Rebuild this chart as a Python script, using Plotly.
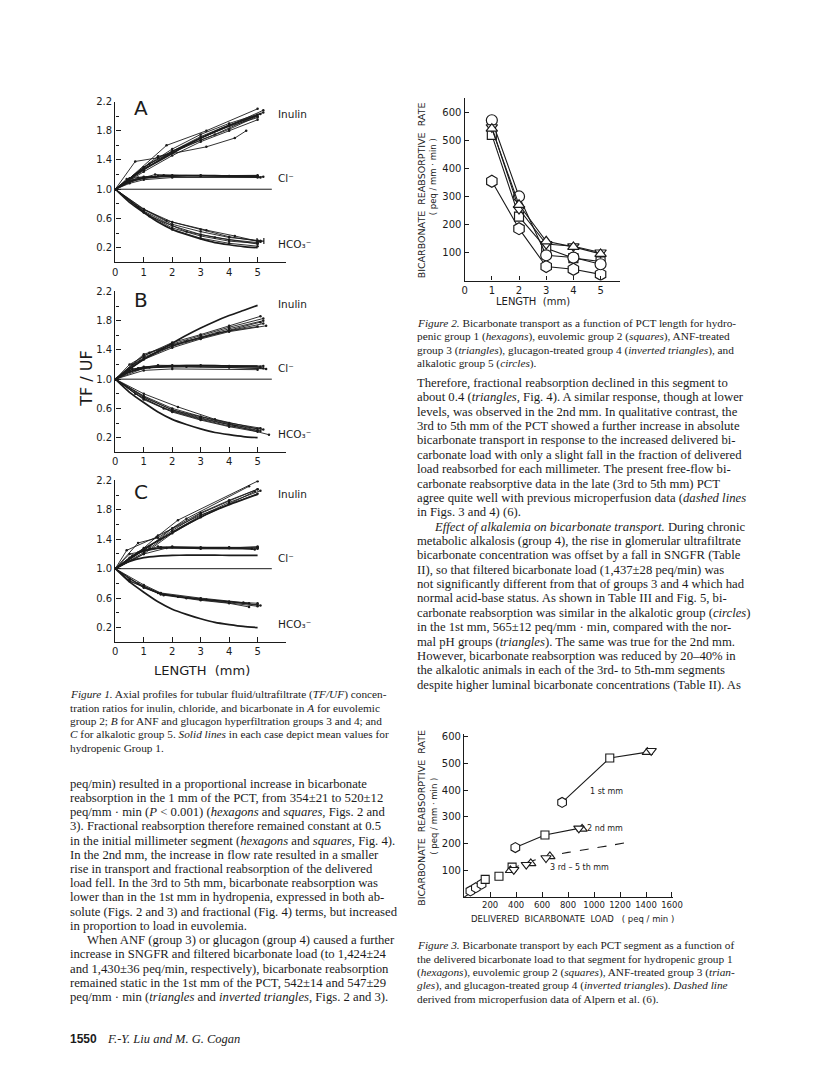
import plotly.graph_objects as go

W, H = 816, 1078
DX, DY = -6, -6          # small whole-page shift of the layout grid
INK = "#1b1b1b"
SERIF = "Liberation Serif"
SANS = "DejaVu Sans"

# ---------------- Figure 1: TF/UF axial profiles ----------------
# mean values for hydropenic group 1 (the solid lines drawn in every panel)
HYDRO_X = [0, 0.5, 1, 1.5, 2, 2.5, 3, 3.5, 4, 4.5, 5]
HYDRO_INULIN = [1.0, 1.14, 1.27, 1.38, 1.49, 1.60, 1.70, 1.79, 1.87, 1.94, 2.01]
HYDRO_CL = [1.0, 1.10, 1.15, 1.17, 1.18, 1.185, 1.185, 1.185, 1.18, 1.18, 1.18]
HYDRO_HCO3 = [1.0, 0.82, 0.68, 0.55, 0.45, 0.38, 0.32, 0.27, 0.24, 0.215, 0.20]
UNITY_X = [0, 5.5]
UNITY_Y = [1.0, 1.0]

# panel A: euvolemic group 2, one curve per tubule, (length, TF/UF)
A_INULIN = [
    [(0, 1.0), (0.7, 1.38), (1.5, 1.43), (5.2, 2.08)],
    [(0, 1.0), (0.5, 1.15), (1.8, 1.60), (3.2, 1.80), (5.0, 2.10)],
    [(0, 1.0), (1, 1.28), (2, 1.50), (3, 1.67), (4, 1.82), (5, 2.00)],
    [(0, 1.0), (1, 1.26), (2, 1.52), (3, 1.72), (4, 1.88), (5, 2.02)],
    [(0, 1.0), (1, 1.30), (2, 1.55), (3, 1.75), (4, 1.90), (5.2, 2.05)],
    [(0, 1.0), (1.5, 1.45), (3.2, 1.58), (4.2, 1.70), (4.6, 1.80)],
    [(0, 1.0), (1, 1.24), (2, 1.46), (3, 1.65), (4, 1.80), (5, 1.95)],
    [(0, 1.0), (1, 1.30), (2, 1.52), (3, 1.70), (4, 1.86), (5, 1.98)],
    [(0, 1.0), (1.2, 1.35), (2.4, 1.58), (3.5, 1.75), (5.1, 2.03)],
]
A_CL = [
    [(0, 1.0), (0.5, 1.12), (1, 1.16), (1.5, 1.18), (3, 1.185), (5, 1.18)],
    [(0, 1.0), (0.5, 1.10), (1, 1.15), (1.7, 1.19), (3, 1.19), (5.2, 1.17)],
    [(0, 1.0), (0.4, 1.14), (1, 1.17), (2, 1.18), (5, 1.19)],
    [(0, 1.0), (0.6, 1.12), (1.4, 1.20), (3, 1.18), (5.1, 1.16)],
    [(0, 1.0), (0.5, 1.08), (1, 1.13), (2, 1.16), (5, 1.16)],
    [(0, 1.0), (0.8, 1.16), (2, 1.19), (4, 1.18), (5, 1.18)],
]
A_HCO3 = [
    [(0, 1.0), (1, 0.72), (2, 0.52), (3, 0.42), (4, 0.34), (5, 0.30)],
    [(0, 1.0), (1, 0.70), (2, 0.50), (3, 0.38), (4, 0.31), (5, 0.27)],
    [(0, 1.0), (1, 0.69), (2, 0.47), (3, 0.36), (4, 0.29), (5, 0.26)],
    [(0, 1.0), (1, 0.68), (2, 0.45), (3, 0.33), (4, 0.26), (5, 0.22)],
    [(0, 1.0), (1, 0.73), (1.8, 0.57), (3.2, 0.44), (4.2, 0.36), (5.1, 0.28)],
    [(0, 1.0), (0.8, 0.76), (2, 0.55), (3, 0.45), (4, 0.35), (5, 0.29)],
    [(0, 1.0), (1.2, 0.63), (2.5, 0.42), (3.5, 0.34), (5, 0.25)],
]
A_HCO3_MEAN = [(5.1, 0.29)]
A_HCO3_ERR = [0.12]

# panel B: ANF and glucagon groups 3 and 4
B_INULIN = [
    [(0, 1.0), (0.5, 1.20), (1.2, 1.36), (2, 1.50), (3, 1.61), (4, 1.73), (5.1, 1.86)],
    [(0, 1.0), (1, 1.32), (2, 1.48), (3, 1.60), (4, 1.71), (5.2, 1.83)],
    [(0, 1.0), (1, 1.30), (2, 1.46), (3, 1.58), (4, 1.69), (5.2, 1.80)],
    [(0, 1.0), (1, 1.28), (2, 1.45), (3, 1.56), (4, 1.67), (5.1, 1.78)],
    [(0, 1.0), (1, 1.27), (2, 1.43), (3, 1.55), (4, 1.65), (5.3, 1.73)],
    [(0, 1.0), (0.6, 1.20), (1.5, 1.38), (2.5, 1.52), (3.6, 1.63), (5.2, 1.76)],
    [(0, 1.0), (1, 1.34), (2, 1.47), (3, 1.57), (4, 1.66), (5, 1.72)],
]
B_CL = [
    [(0, 1.0), (0.5, 1.12), (1, 1.17), (2, 1.19), (3, 1.19), (5.2, 1.18)],
    [(0, 1.0), (0.6, 1.14), (1.5, 1.19), (3, 1.18), (5.1, 1.17)],
    [(0, 1.0), (0.5, 1.10), (1.2, 1.16), (2.5, 1.17), (5.2, 1.15)],
    [(0, 1.0), (1, 1.15), (2, 1.17), (4, 1.16), (5.3, 1.14)],
    [(0, 1.0), (0.8, 1.15), (2, 1.18), (4, 1.18), (5.1, 1.16)],
    [(0, 1.0), (1, 1.12), (2, 1.14), (5, 1.13)],
]
B_HCO3 = [
    [(0, 1.0), (1, 0.77), (2, 0.60), (3, 0.49), (4, 0.40), (5.1, 0.33)],
    [(0, 1.0), (1, 0.75), (2, 0.58), (3, 0.47), (4, 0.38), (5.2, 0.31)],
    [(0, 1.0), (1, 0.73), (2, 0.56), (3, 0.45), (4, 0.36), (5.1, 0.29)],
    [(0, 1.0), (1, 0.72), (2, 0.55), (3, 0.44), (4, 0.35), (5.0, 0.28)],
    [(0, 1.0), (0.7, 0.80), (1.7, 0.60), (3, 0.46), (4.2, 0.36), (5.4, 0.24)],
    [(0, 1.0), (1, 0.80), (2.2, 0.62), (3.5, 0.45), (5, 0.32)],
    [(0, 1.0), (1, 0.76), (2, 0.58), (3, 0.48), (4, 0.39), (5, 0.30)],
]

# panel C: alkalotic group 5
C_INULIN = [
    [(0, 1.0), (0.4, 1.25), (1.45, 1.43), (2.2, 1.66), (5.0, 2.19)],
    [(0, 1.0), (0.8, 1.35), (1.5, 1.42), (2.5, 1.68), (4.7, 2.12)],
    [(0, 1.0), (1, 1.25), (2, 1.52), (3, 1.75), (4, 1.92), (5, 2.08)],
    [(0, 1.0), (1, 1.22), (2, 1.50), (3, 1.72), (4, 1.90), (5.1, 2.06)],
    [(0, 1.0), (1, 1.20), (2, 1.48), (3, 1.70), (4, 1.88), (4.9, 2.05)],
    [(0, 1.0), (1.2, 1.30), (2, 1.55), (3, 1.76), (4, 1.93), (5, 2.08)],
    [(0, 1.0), (1, 1.28), (1.5, 1.45), (3, 1.73), (5, 2.02)],
]
C_CL = [
    [(0, 1.0), (0.5, 1.15), (1, 1.24), (1.6, 1.29), (3, 1.29), (5, 1.29)],
    [(0, 1.0), (0.6, 1.18), (1.2, 1.27), (2, 1.30), (4, 1.28), (5, 1.28)],
    [(0, 1.0), (1, 1.20), (1.8, 1.28), (3, 1.28), (4.8, 1.27)],
    [(0, 1.0), (0.8, 1.22), (1.5, 1.30), (3, 1.27), (5, 1.27)],
    [(0, 1.0), (1, 1.26), (2, 1.29), (4, 1.29), (4.9, 1.26)],
    [(0, 1.0), (0.5, 1.20), (1.6, 1.28), (4, 1.28), (5, 1.30)],
]
C_HCO3 = [
    [(0, 1.0), (0.5, 0.86), (1, 0.76), (1.6, 0.66), (3, 0.59), (4, 0.55), (5, 0.51)],
    [(0, 1.0), (0.5, 0.84), (1, 0.75), (1.6, 0.65), (3, 0.58), (4, 0.54), (5, 0.49)],
    [(0, 1.0), (0.8, 0.80), (1.6, 0.66), (2.2, 0.62), (3.2, 0.58), (4.7, 0.53)],
    [(0, 1.0), (1, 0.74), (1.7, 0.64), (3, 0.57), (4, 0.53), (4.7, 0.48)],
    [(0, 1.0), (0.5, 0.83), (1.5, 0.67), (2.5, 0.60), (4, 0.55), (5.1, 0.50)],
    [(0, 1.0), (1, 0.78), (1.6, 0.67), (3, 0.60), (4.5, 0.54), (5, 0.53)],
]
FIG1_YTICKS = [0.2, 0.6, 1.0, 1.4, 1.8, 2.2]
FIG1_YMINOR = [0.4, 0.8, 1.2, 1.6, 2.0]
FIG1_XTICKS = [0, 1, 2, 3, 4, 5]

# ---------------- Figure 2: reabsorptive rate vs PCT length ----------------
LENGTH_MM = [1, 2, 3, 4, 5]
G1_HEXAGONS = [354, 185, 50, 40, 22]
G2_SQUARES = [520, 228, 115, 80, 68]
G3_TRIANGLES = [542, 270, 140, 120, 95]
G4_INV_TRIANGLES = [547, 255, 130, 122, 100]
G5_CIRCLES = [572, 300, 90, 82, 58]
FIG2_XTICKS = [0, 1, 2, 3, 4, 5]
FIG2_YTICKS = [100, 200, 300, 400, 500, 600]

# ---------------- Figure 3: reabsorptive rate vs delivered load ----------------
MM1_LOAD = [754, 1121, 1410]
MM1_RATE = [354, 520, 542]
MM1_INV_LOAD = [1440]
MM1_INV_RATE = [547]
MM2_LOAD = [394, 622, 883]
MM2_RATE = [185, 232, 257]
MM2_TRI_LOAD = [908]
MM2_TRI_RATE = [255]
LATE_HEX_LOAD = [48, 90, 134]
LATE_HEX_RATE = [23, 35, 48]
LATE_SQ_LOAD = [162, 268, 369]
LATE_SQ_RATE = [66, 78, 112]
LATE_TRI_LOAD = [356, 513, 660]
LATE_TRI_RATE = [100, 126, 152]
LATE_INV_LOAD = [382, 478, 630]
LATE_INV_RATE = [102, 121, 146]
ALPERN_LOAD = [0, 100, 200, 300, 400, 500, 600, 700, 800, 900, 1000, 1100, 1240]
ALPERN_RATE = [0, 30, 60, 88, 113, 132, 147, 158, 167, 175, 183, 191, 203]
FIG3_XTICKS = [200, 400, 600, 800, 1000, 1200, 1400, 1600]
FIG3_YTICKS = [100, 200, 300, 400, 500, 600]

# ---------------- page text ----------------
FIG1_CAPTION = [
    "<i>Figure 1.</i> Axial profiles for tubular fluid/ultrafiltrate (<i>TF/UF</i>) concen-",
    "tration ratios for inulin, chloride, and bicarbonate in <i>A</i> for euvolemic",
    "group 2; <i>B</i> for ANF and glucagon hyperfiltration groups 3 and 4; and",
    "<i>C</i> for alkalotic group 5. <i>Solid lines</i> in each case depict mean values for",
    "hydropenic Group 1.",
]
LEFT_BODY = [
    "peq/min) resulted in a proportional increase in bicarbonate",
    "reabsorption in the 1 mm of the PCT, from 354±21 to 520±12",
    "peq/mm · min (<i>P</i> &lt; 0.001) (<i>hexagons</i> and <i>squares,</i> Figs. 2 and",
    "3). Fractional reabsorption therefore remained constant at 0.5",
    "in the initial millimeter segment (<i>hexagons</i> and <i>squares,</i> Fig. 4).",
    "In the 2nd mm, the increase in flow rate resulted in a smaller",
    "rise in transport and fractional reabsorption of the delivered",
    "load fell. In the 3rd to 5th mm, bicarbonate reabsorption was",
    "lower than in the 1st mm in hydropenia, expressed in both ab-",
    "solute (Figs. 2 and 3) and fractional (Fig. 4) terms, but increased",
    "in proportion to load in euvolemia.",
    "When ANF (group 3) or glucagon (group 4) caused a further",
    "increase in SNGFR and filtered bicarbonate load (to 1,424±24",
    "and 1,430±36 peq/min, respectively), bicarbonate reabsorption",
    "remained static in the 1st mm of the PCT, 542±14 and 547±29",
    "peq/mm · min (<i>triangles</i> and <i>inverted triangles,</i> Figs. 2 and 3).",
]
LEFT_INDENT_LINE = 11
FIG2_CAPTION = [
    "<i>Figure 2.</i> Bicarbonate transport as a function of PCT length for hydro-",
    "penic group 1 (<i>hexagons</i>), euvolemic group 2 (<i>squares</i>), ANF-treated",
    "group 3 (<i>triangles</i>), glucagon-treated group 4 (<i>inverted triangles</i>), and",
    "alkalotic group 5 (<i>circles</i>).",
]
RIGHT_BODY = [
    "Therefore, fractional reabsorption declined in this segment to",
    "about 0.4 (<i>triangles,</i> Fig. 4). A similar response, though at lower",
    "levels, was observed in the 2nd mm. In qualitative contrast, the",
    "3rd to 5th mm of the PCT showed a further increase in absolute",
    "bicarbonate transport in response to the increased delivered bi-",
    "carbonate load with only a slight fall in the fraction of delivered",
    "load reabsorbed for each millimeter. The present free-flow bi-",
    "carbonate reabsorptive data in the late (3rd to 5th mm) PCT",
    "agree quite well with previous microperfusion data (<i>dashed lines</i>",
    "in Figs. 3 and 4) (6).",
    "<i>Effect of alkalemia on bicarbonate transport.</i> During chronic",
    "metabolic alkalosis (group 4), the rise in glomerular ultrafiltrate",
    "bicarbonate concentration was offset by a fall in SNGFR (Table",
    "II), so that filtered bicarbonate load (1,437±28 peq/min) was",
    "not significantly different from that of groups 3 and 4 which had",
    "normal acid-base status. As shown in Table III and Fig. 5, bi-",
    "carbonate reabsorption was similar in the alkalotic group (<i>circles</i>)",
    "in the 1st mm, 565±12 peq/mm · min, compared with the nor-",
    "mal pH groups (<i>triangles</i>). The same was true for the 2nd mm.",
    "However, bicarbonate reabsorption was reduced by 20–40% in",
    "the alkalotic animals in each of the 3rd- to 5th-mm segments",
    "despite higher luminal bicarbonate concentrations (Table II). As",
]
RIGHT_INDENT_LINE = 10
FIG3_CAPTION = [
    "<i>Figure 3.</i> Bicarbonate transport by each PCT segment as a function of",
    "the delivered bicarbonate load to that segment for hydropenic group 1",
    "(<i>hexagons</i>), euvolemic group 2 (<i>squares</i>), ANF-treated group 3 (<i>trian-</i>",
    "<i>gles</i>), and glucagon-treated group 4 (<i>inverted triangles</i>). <i>Dashed line</i>",
    "derived from microperfusion data of Alpern et al. (6).",
]


def px(x):
    return (x + DX) / W


def py(y):
    return 1 - (y + DY) / H


def xdom(left, right):
    return [px(left), px(right)]


def ydom(top, bottom):
    return [py(bottom), py(top)]


fig = go.Figure()


def add_curves(curves, xa, ya, width=0.9):
    for pts in curves:
        fig.add_trace(go.Scatter(
            x=[p[0] for p in pts], y=[p[1] for p in pts], xaxis=xa, yaxis=ya,
            mode="lines+markers", line=dict(color=INK, width=width),
            marker=dict(size=2.5, color=INK), showlegend=False, hoverinfo="skip",
        ))


def add_line(xs, ys, xa, ya, width=1.7, dash="solid"):
    fig.add_trace(go.Scatter(
        x=xs, y=ys, xaxis=xa, yaxis=ya, mode="lines",
        line=dict(color=INK, width=width, dash=dash, shape="spline", smoothing=0.6),
        showlegend=False, hoverinfo="skip",
    ))


## Figure 1 panels
panels = [("x", "y", A_INULIN, A_CL, A_HCO3),
          ("x2", "y2", B_INULIN, B_CL, B_HCO3),
          ("x3", "y3", C_INULIN, C_CL, C_HCO3)]
for xa, ya, inu, cl, hco in panels:
    add_line(UNITY_X, UNITY_Y, xa, ya, width=1.0)
    add_curves(inu, xa, ya)
    add_curves(cl, xa, ya)
    add_curves(hco, xa, ya)
    add_line(HYDRO_X, HYDRO_INULIN, xa, ya)
    add_line(HYDRO_X, HYDRO_CL, xa, ya)
    add_line(HYDRO_X, HYDRO_HCO3, xa, ya)

fig.add_trace(go.Scatter(
    x=[p[0] for p in A_HCO3_MEAN], y=[p[1] for p in A_HCO3_MEAN], xaxis="x", yaxis="y",
    mode="markers", marker=dict(size=3, color=INK),
    error_x=dict(type="data", array=A_HCO3_ERR, color=INK, thickness=1.2, width=3),
    showlegend=False, hoverinfo="skip",
))

## Figure 2
fig2_groups = [
    (G1_HEXAGONS, "hexagon", 12),
    (G2_SQUARES, "square", 9),
    (G5_CIRCLES, "circle", 11),
    (G4_INV_TRIANGLES, "triangle-down", 10),
    (G3_TRIANGLES, "triangle-up", 10),
]
for vals, sym, size in fig2_groups:
    fig.add_trace(go.Scatter(
        x=LENGTH_MM, y=vals, xaxis="x4", yaxis="y4", mode="lines+markers",
        line=dict(color=INK, width=1.1),
        marker=dict(symbol=sym, size=size, color="white", line=dict(color=INK, width=1.2)),
        showlegend=False, hoverinfo="skip",
    ))

## Figure 3
add_line(ALPERN_LOAD, ALPERN_RATE, "x5", "y5", width=1.1, dash="dash")
fig.add_trace(go.Scatter(x=MM1_LOAD, y=MM1_RATE, xaxis="x5", yaxis="y5", mode="lines",
                         line=dict(color=INK, width=1.1), showlegend=False, hoverinfo="skip"))
fig.add_trace(go.Scatter(x=MM2_LOAD, y=MM2_RATE, xaxis="x5", yaxis="y5", mode="lines",
                         line=dict(color=INK, width=1.1), showlegend=False, hoverinfo="skip"))
fig3_marks = [
    ([MM1_LOAD[0], MM2_LOAD[0]] + LATE_HEX_LOAD, [MM1_RATE[0], MM2_RATE[0]] + LATE_HEX_RATE, "hexagon", 10),
    ([MM1_LOAD[1], MM2_LOAD[1]] + LATE_SQ_LOAD, [MM1_RATE[1], MM2_RATE[1]] + LATE_SQ_RATE, "square", 8),
    ([MM1_LOAD[2]] + MM2_TRI_LOAD + LATE_TRI_LOAD, [MM1_RATE[2]] + MM2_TRI_RATE + LATE_TRI_RATE, "triangle-up", 9),
    (MM1_INV_LOAD + [MM2_LOAD[2]] + LATE_INV_LOAD, MM1_INV_RATE + [MM2_RATE[2]] + LATE_INV_RATE, "triangle-down", 9),
]
for xs, ys, sym, size in fig3_marks:
    fig.add_trace(go.Scatter(
        x=xs, y=ys, xaxis="x5", yaxis="y5", mode="markers",
        marker=dict(symbol=sym, size=size, color="white", line=dict(color=INK, width=1.1)),
        showlegend=False, hoverinfo="skip",
    ))

## axes
base = dict(showgrid=False, zeroline=False, showline=True, linecolor=INK, linewidth=1.4,
            tickcolor=INK, tickwidth=1.2, tickangle=0, fixedrange=True,
            tickfont=dict(family=SANS, size=10, color=INK))

fig1_x = dict(base, domain=xdom(112, 285.5), range=[0, 6.0], tickvals=FIG1_XTICKS,
              ticks="inside", ticklen=5)
fig1_y = dict(base, range=[0, 2.2], tickvals=FIG1_YTICKS,
              ticktext=[f"{v:.1f}" for v in FIG1_YTICKS], ticks="inside", ticklen=5,
              minor=dict(tickvals=FIG1_YMINOR, ticks="inside", ticklen=3, tickcolor=INK))

small = dict(family=SANS, size=8.5, color=INK)
layout_axes = dict(
    xaxis=dict(fig1_x, anchor="y"),
    yaxis=dict(fig1_y, anchor="x", domain=ydom(94, 255.7)),
    xaxis2=dict(fig1_x, anchor="y2"),
    yaxis2=dict(fig1_y, anchor="x2", domain=ydom(285, 446.7)),
    xaxis3=dict(fig1_x, anchor="y3"),
    yaxis3=dict(fig1_y, anchor="x3", domain=ydom(475, 637.8)),
    xaxis4=dict(base, anchor="y4", domain=xdom(467, 625), range=[0, 5.72],
                tickvals=FIG2_XTICKS, ticks="inside", ticklen=4),
    yaxis4=dict(base, anchor="x4", domain=ydom(90, 274), range=[0, 653],
                tickvals=FIG2_YTICKS, ticks="inside", ticklen=4),
    xaxis5=dict(base, anchor="y5", domain=xdom(466.5, 679), range=[0, 1610],
                tickvals=FIG3_XTICKS, ticks="inside", ticklen=5, tickfont=small),
    yaxis5=dict(base, anchor="x5", domain=ydom(730, 894), range=[0, 610],
                tickvals=FIG3_YTICKS, ticks="inside", ticklen=4),
)

## annotations
ann = []


def text(x, y, s, size=12.5, family=SERIF, anchor="left", angle=0, xref="paper", yref="paper"):
    ann.append(dict(
        x=px(x) if xref == "paper" else x, y=py(y) if yref == "paper" else y,
        xref=xref, yref=yref, text=s, showarrow=False, textangle=angle,
        xanchor=anchor, yanchor="middle", font=dict(family=family, size=size, color=INK),
    ))


# figure 1 lettering
for letter, top in [("A", 101), ("B", 294), ("C", 487)]:
    text(129, top, letter, size=20, family=SANS)
for off in [0, 191, 382]:
    text(275, 107 + off, "Inulin", size=10.5, family=SANS)
    text(275, 171 + off, "Cl⁻", size=10.5, family=SANS)
    text(275, 237 + off, "HCO₃⁻", size=10.5, family=SANS)
text(83, 373, "TF / UF", size=16, family=SANS, anchor="center", angle=-90)
text(200, 666, "LENGTH  (mm)", size=13, family=SANS, anchor="center")

# figure 2 lettering
text(423, 183, "BICARBONATE  REABSORPTIVE  RATE", size=9.5, family=SANS, anchor="center", angle=-90)
text(435, 170, "( peq / mm · min )", size=8.5, family=SANS, anchor="center", angle=-90)
text(536, 295, "LENGTH  (mm)", size=10, family=SANS, anchor="center")

# figure 3 lettering
text(423, 814, "BICARBONATE  REABSORPTIVE  RATE", size=9.5, family=SANS, anchor="center", angle=-90)
text(435, 813, "( peq / mm · min )", size=8.5, family=SANS, anchor="center", angle=-90)
text(577, 916, "DELIVERED  BICARBONATE  LOAD   ( peq / min )", size=8.5, family=SANS, anchor="center")
text(1095, 393, "1 st mm", size=8, family=SANS, anchor="center", xref="x5", yref="y5")
text(1083, 258, "2 nd mm", size=8, family=SANS, anchor="center", xref="x5", yref="y5")
text(885, 109, "3 rd – 5 th mm", size=8, family=SANS, anchor="center", xref="x5", yref="y5")

# captions and body text
CAP = 11.3
LEFT_X, RIGHT_X = 64, 417
for i, s in enumerate(FIG1_CAPTION):
    text(LEFT_X, 690 + 13.5 * i, s, size=CAP)
for i, s in enumerate(LEFT_BODY):
    text(LEFT_X + (17 if i == LEFT_INDENT_LINE else 0), 780 + 14.3 * i, s, size=12.7)
for i, s in enumerate(FIG2_CAPTION):
    text(RIGHT_X, 317 + 13.5 * i, s, size=CAP)
for i, s in enumerate(RIGHT_BODY):
    text(RIGHT_X + (17 if i == RIGHT_INDENT_LINE else 0), 377 + 14.45 * i, s, size=12.7)
for i, s in enumerate(FIG3_CAPTION):
    text(RIGHT_X, 942 + 13.8 * i, s, size=CAP)
text(LEFT_X, 1037, "<b>1550</b>", size=12, family="Liberation Sans")
text(LEFT_X + 38, 1037, "<i>F.-Y. Liu and M. G. Cogan</i>", size=12.5)

fig.update_layout(
    width=W, height=H, autosize=False,
    margin=dict(l=0, r=0, t=0, b=0),
    paper_bgcolor="white", plot_bgcolor="white",
    showlegend=False, annotations=ann,
    **layout_axes,
)

fig.write_html("out.html")
